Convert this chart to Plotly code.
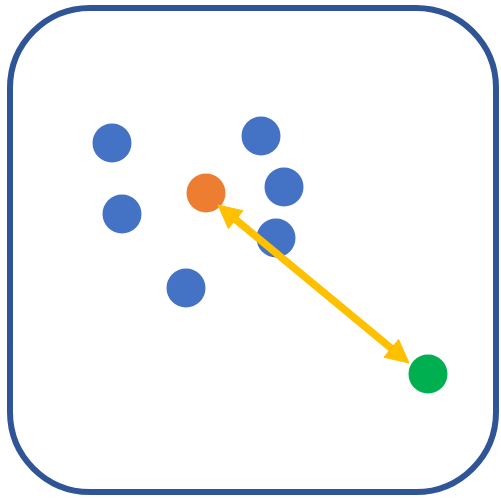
import math
import plotly.graph_objects as go

# Data (pixel-space coordinates of the icon's marks)
blue_x = [112, 261, 284, 122, 276, 186]
blue_y = [143, 136, 187, 214, 238, 288]
orange_x = [206]
orange_y = [193]
green_x = [428]
green_y = [374]
arrow_x = [218, 409]
arrow_y = [205, 363]
frame_x = [10, 496]
frame_y = [8, 492]

W, H = 501, 500
BLUE = "#4472C4"
ORANGE = "#ED7D31"
GREEN = "#00B050"
YELLOW = "#FFC000"
FRAME = "#2F5597"
MS = 39

fig = go.Figure()
fig.add_trace(go.Scatter(x=blue_x, y=blue_y, mode="markers",
                         marker=dict(size=MS, color=BLUE, line=dict(width=0)),
                         hoverinfo="skip"))
fig.add_trace(go.Scatter(x=orange_x, y=orange_y, mode="markers",
                         marker=dict(size=MS, color=ORANGE, line=dict(width=0)),
                         hoverinfo="skip"))
fig.add_trace(go.Scatter(x=green_x, y=green_y, mode="markers",
                         marker=dict(size=MS, color=GREEN, line=dict(width=0)),
                         hoverinfo="skip"))

shapes = []
# rounded frame (circular corners via cubic Beziers)
x0, x1 = frame_x
y0, y1 = frame_y
r = 80
k = 0.5523 * r
path = (f"M {x0+r},{y0} L {x1-r},{y0} "
        f"C {x1-r+k},{y0} {x1},{y0+r-k} {x1},{y0+r} "
        f"L {x1},{y1-r} "
        f"C {x1},{y1-r+k} {x1-r+k},{y1} {x1-r},{y1} "
        f"L {x0+r},{y1} "
        f"C {x0+r-k},{y1} {x0},{y1-r+k} {x0},{y1-r} "
        f"L {x0},{y0+r} "
        f"C {x0},{y0+r-k} {x0+r-k},{y0} {x0+r},{y0} Z")
shapes.append(dict(type="path", path=path, xref="x", yref="y",
                   line=dict(color=FRAME, width=6), fillcolor="rgba(0,0,0,0)"))

# double-headed arrow
ax0, ax1 = arrow_x
ay0, ay1 = arrow_y
dx, dy = ax1 - ax0, ay1 - ay0
L = math.hypot(dx, dy)
ux, uy = dx / L, dy / L
px, py = -uy, ux
hl, hw = 23, 11.5
shapes.append(dict(type="line", xref="x", yref="y",
                   x0=ax0 + ux * (hl - 2), y0=ay0 + uy * (hl - 2),
                   x1=ax1 - ux * (hl - 2), y1=ay1 - uy * (hl - 2),
                   line=dict(color=YELLOW, width=7.5)))
for tx, ty, s in [(ax0, ay0, 1), (ax1, ay1, -1)]:
    bx, by = tx + s * ux * hl, ty + s * uy * hl
    p = (f"M {tx},{ty} L {bx + px*hw},{by + py*hw} "
         f"L {bx - px*hw},{by - py*hw} Z")
    shapes.append(dict(type="path", path=p, xref="x", yref="y",
                       fillcolor=YELLOW, line=dict(color=YELLOW, width=1)))

fig.update_layout(
    width=W, height=H,
    margin=dict(l=0, r=0, t=0, b=0),
    paper_bgcolor="white", plot_bgcolor="white",
    showlegend=False,
    shapes=shapes,
    xaxis=dict(range=[0, W], visible=False, fixedrange=True),
    yaxis=dict(range=[H, 0], visible=False, fixedrange=True),
)
fig.write_html("out.html", config={"displayModeBar": False},
               post_script="document.body.style.margin='0';document.body.style.overflow='hidden';")
